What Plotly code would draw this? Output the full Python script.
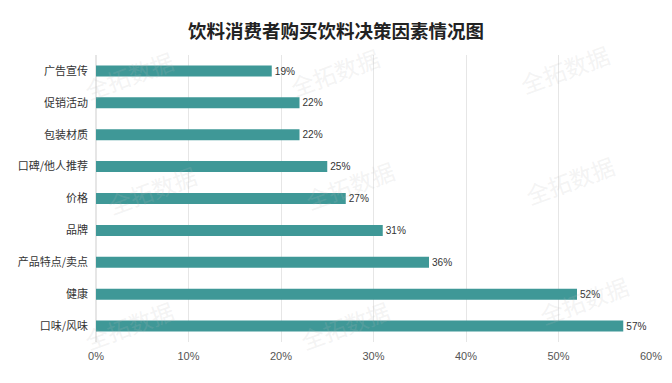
import plotly.graph_objects as go

categories = ["广告宣传", "促销活动", "包装材质", "口碑/他人推荐", "价格", "品牌", "产品特点/卖点", "健康", "口味/风味"]
values = [19, 22, 22, 25, 27, 31, 36, 52, 57]
x_ticks = [0, 10, 20, 30, 40, 50, 60]
x_tick_labels = ["0%", "10%", "20%", "30%", "40%", "50%", "60%"]

FONT = "Noto Sans CJK SC, Liberation Sans, Arial, sans-serif"

fig = go.Figure()
fig.add_trace(go.Bar(
    y=categories,
    x=values,
    orientation="h",
    marker=dict(color="#3f9897", line=dict(width=0)),
    text=[f"{v}%" for v in values],
    textposition="outside",
    textfont=dict(size=11, color="#333333", family="Liberation Sans, Arial, sans-serif"),
    cliponaxis=False,
    hoverinfo="skip",
))

# watermarks
wm = [(0.06, 0.93), (0.43, 0.94), (0.845, 0.95),
      (0.10, 0.53), (0.458, 0.547), (0.854, 0.564),
      (0.06, 0.06), (0.449, 0.06), (0.88, 0.146)]
for (ax, ay) in wm:
    fig.add_annotation(
        x=ax, y=ay, xref="paper", yref="paper", text="全拓数据", showarrow=False,
        xanchor="center", yanchor="middle",
        textangle=-20, font=dict(size=23, color="rgba(190,190,190,0.18)", family=FONT),
    )

fig.update_layout(
    width=672, height=383,
    margin=dict(l=96, r=21, t=55, b=41),
    paper_bgcolor="white", plot_bgcolor="white",
    bargap=0.655,
    showlegend=False,
    title=dict(
        text="饮料消费者购买饮料决策因素情况图",
        x=0.5, xanchor="center", y=0.918, yanchor="middle",
        font=dict(size=18.5, color="#222222", family=FONT, weight="bold"),
    ),
    xaxis=dict(
        range=[0, 60],
        tickvals=x_ticks, ticktext=x_tick_labels,
        showgrid=True, gridcolor="#e6e6e6", gridwidth=1,
        zeroline=True, zerolinecolor="#e6e6e6",
        showline=False,
        tickfont=dict(size=11, color="#555555", family="Liberation Sans, Arial, sans-serif"),
        ticklabelstandoff=6,
        automargin=False,
        fixedrange=True,
    ),
    yaxis=dict(
        autorange="reversed",
        showgrid=False, showline=False, zeroline=False,
        tickfont=dict(size=11, color="#333333", family=FONT),
        ticklabelstandoff=7,
        automargin=False,
        fixedrange=True,
    ),
)

fig.write_html("out.html", config={"displayModeBar": False},
               post_script="document.body.style.margin='0';")
